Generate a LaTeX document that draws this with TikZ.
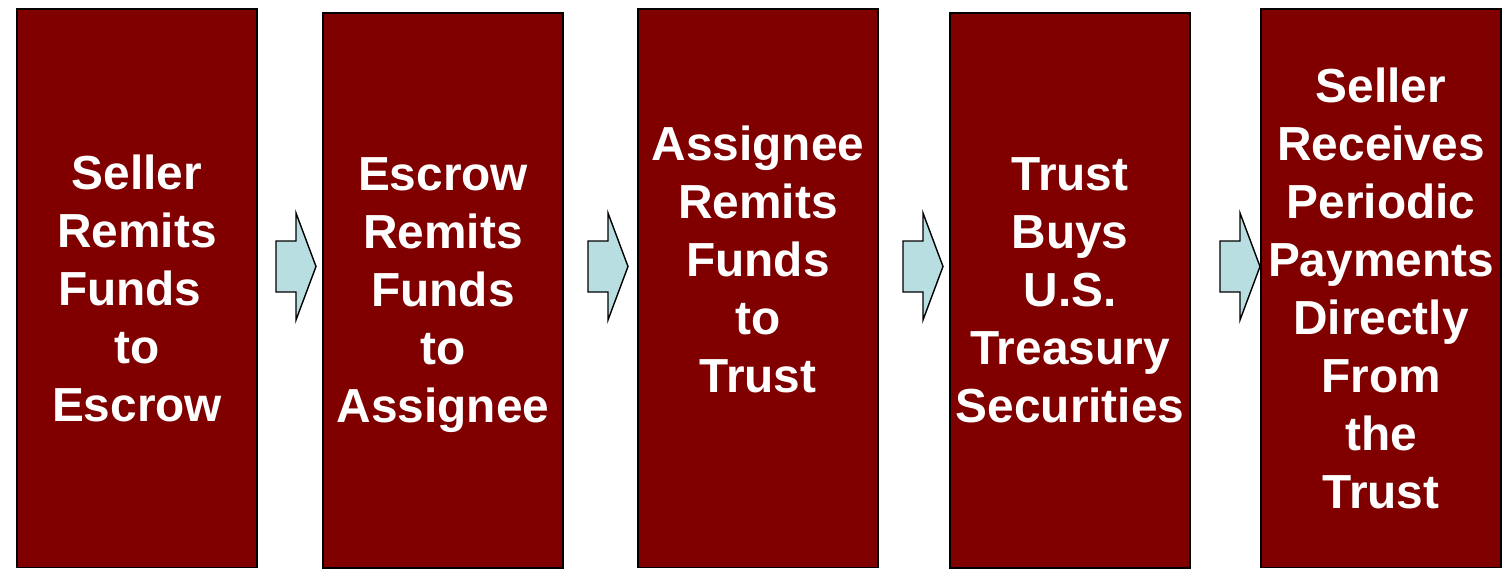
\documentclass[tikz,border=0pt]{standalone}
\usepackage{fontspec}
\setmainfont{Liberation Sans}
\definecolor{boxred}{HTML}{800000}
\definecolor{arrowblue}{HTML}{B9DEE2}
\tikzset{
  stepbox/.style={draw=black, line width=1.1pt, fill=boxred, text=white,
    font=\bfseries\fontsize{27.2}{33}\selectfont, align=center,
    minimum width=4.8cm, inner sep=0pt, text depth=0pt},
  tallbox/.style={stepbox, minimum height=11.17cm},
  shortbox/.style={stepbox, minimum height=11.1cm},
  blockarrow/.pic={
    \draw[fill=arrowblue, line width=0.8pt, line join=miter]
      (-20,-25.5) -- (0,-25.5) -- (0,-53.5) -- (20,0) -- (0,53.5)
      -- (0,25.5) -- (-20,25.5) -- cycle;
  }
}
\begin{document}
\begin{tikzpicture}[x=0.02cm, y=-0.02cm]
  \useasboundingbox (0,0) rectangle (1508,569);
  % the five steps
  \node[tallbox]  (remit)    at (137,288.3)  {Seller\\Remits\\\mbox{Funds\hspace{.3em}}\\to\\Escrow};
  \node[shortbox] (escrow)   at (443,290.3)  {Escrow\\Remits\\Funds\\to\\Assignee};
  \node[tallbox]  (assignee) at (758,288.3)  {Assignee\\Remits\\Funds\\to\\Trust\\~};
  \node[shortbox] (trust)    at (1070,290.3) {Trust\\Buys\\U.S.\\Treasury\\Securities};
  \node[tallbox]  (payment)  at (1381,288.3) {Seller\\Receives\\Periodic\\Payments\\Directly\\From\\the\\Trust};
  % arrows between them
  \pic (a1) at (296,266.5)  {blockarrow};
  \pic (a2) at (608,266.5)  {blockarrow};
  \pic (a3) at (923,266.5)  {blockarrow};
  \pic (a4) at (1240,266.5) {blockarrow};
\end{tikzpicture}
\end{document}
